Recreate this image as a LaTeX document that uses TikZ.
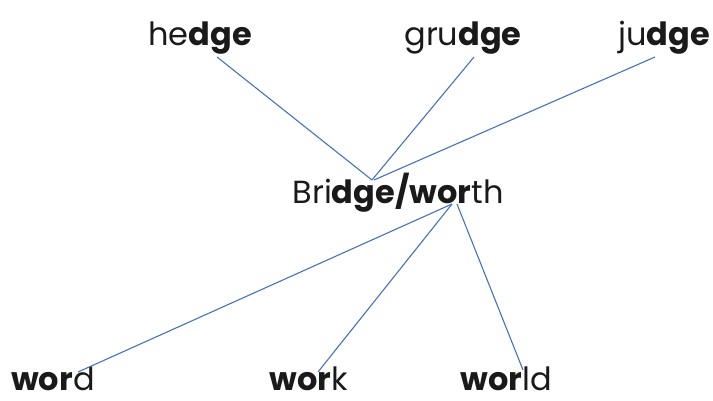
\documentclass[tikz,border=0pt]{standalone}
\usepackage{fontspec}
\setmainfont{Poppins}
\definecolor{linkblue}{HTML}{4472C4}
\definecolor{txt}{HTML}{1A1A1A}
\begin{document}
\begin{tikzpicture}[x=1pt,y=-1pt,
  word/.style={anchor=base,inner sep=0pt,font=\fontsize{32}{34}\selectfont,text=txt},
  link/.style={draw=linkblue,line width=1.1pt}]
\useasboundingbox (0,0) rectangle (713,401);
\node[word] (hedge) at (200,46) {he\textbf{dge}};
\node[word] (grudge) at (463,46) {gru\textbf{dge}};
\node[word] (judge) at (664,46) {ju\textbf{dge}};
\node[word] (bridge) at (398,204) {Bri\textbf{dge/wor}th};
\node[word] (wordn) at (53,390) {\textbf{wor}d};
\node[word] (work) at (309,390) {\textbf{wor}k};
\node[word] (world) at (506,390) {\textbf{wor}ld};
\coordinate (h1) at (217,57);
\coordinate (g1) at (474,57);
\coordinate (j1) at (655,57);
\coordinate (top) at (372,180);
\coordinate (top2) at (374,180);
\coordinate (bot) at (452,204);
\coordinate (bot2) at (457,204);
\coordinate (w1) at (78,372);
\coordinate (k1) at (318,372);
\coordinate (l1) at (523,370);
\draw[link] (h1) -- (top);
\draw[link] (g1) -- (top);
\draw[link] (j1) -- (top2);
\draw[link] (bot) -- (w1);
\draw[link] (bot) -- (k1);
\draw[link] (bot2) -- (l1);
\end{tikzpicture}
\end{document}
